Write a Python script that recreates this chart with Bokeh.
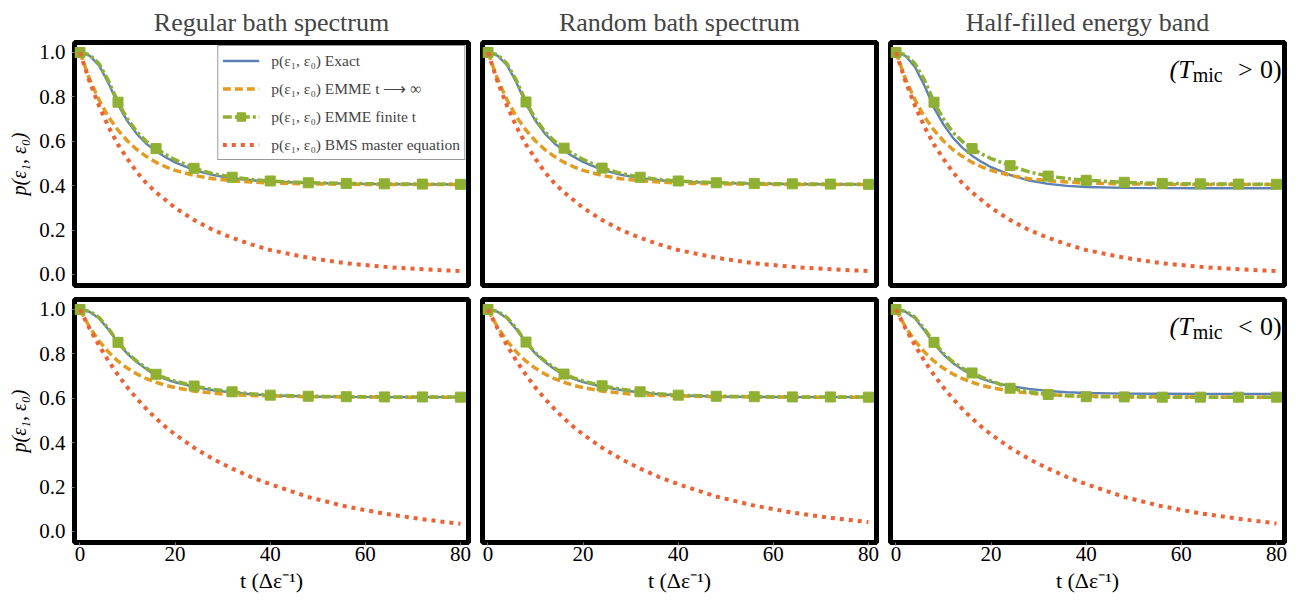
from bokeh.plotting import figure
from bokeh.layouts import column, row
from bokeh.models import Range1d, FixedTicker, Label
from bokeh.embed import file_html
from bokeh.resources import INLINE

# ---------------- data ----------------
t = [0, 2, 4, 6, 8, 10, 12, 14, 16, 18, 20, 24, 28, 32, 36, 40, 48, 56, 64, 72, 80]
x_ticks = [0, 20, 40, 60, 80]
y_ticks = [0.0, 0.2, 0.4, 0.6, 0.8, 1.0]
titles = ["Regular bath spectrum", "Random bath spectrum", "Half-filled energy band"]
legend_labels = ["p(ε₁, ε₀) Exact", "p(ε₁, ε₀) EMME t ⟶ ∞",
                 "p(ε₁, ε₀) EMME finite t", "p(ε₁, ε₀) BMS master equation"]

# Row 1 (T_mic > 0)
reg_pos_exact = [1.0, 0.986, 0.942, 0.862, 0.765, 0.69, 0.632, 0.588, 0.555, 0.528, 0.505, 0.47, 0.448, 0.433, 0.424, 0.418, 0.412, 0.409, 0.407, 0.406, 0.405]
reg_pos_inf = [1.0, 0.881, 0.786, 0.71, 0.65, 0.601, 0.562, 0.531, 0.505, 0.485, 0.469, 0.446, 0.431, 0.422, 0.416, 0.412, 0.408, 0.406, 0.405, 0.405, 0.405]
reg_pos_fin = [1.0, 0.99, 0.95, 0.872, 0.776, 0.70, 0.642, 0.598, 0.567, 0.54, 0.517, 0.478, 0.454, 0.438, 0.428, 0.421, 0.413, 0.41, 0.408, 0.407, 0.406]
reg_pos_bms = [1.0, 0.87, 0.76, 0.665, 0.585, 0.52, 0.46, 0.41, 0.37, 0.335, 0.30, 0.245, 0.20, 0.165, 0.135, 0.11, 0.075, 0.05, 0.034, 0.023, 0.015]

rnd_pos_exact = [1.0, 0.986, 0.943, 0.864, 0.768, 0.692, 0.634, 0.59, 0.557, 0.53, 0.507, 0.471, 0.449, 0.434, 0.424, 0.418, 0.412, 0.409, 0.407, 0.406, 0.405]
rnd_pos_inf = [1.0, 0.881, 0.786, 0.71, 0.65, 0.601, 0.562, 0.531, 0.505, 0.485, 0.469, 0.446, 0.431, 0.422, 0.416, 0.412, 0.408, 0.406, 0.405, 0.405, 0.405]
rnd_pos_fin = [1.0, 0.99, 0.95, 0.873, 0.777, 0.70, 0.643, 0.60, 0.569, 0.542, 0.518, 0.479, 0.455, 0.438, 0.428, 0.421, 0.413, 0.41, 0.408, 0.407, 0.406]
rnd_pos_bms = [1.0, 0.87, 0.76, 0.665, 0.585, 0.52, 0.46, 0.41, 0.37, 0.335, 0.30, 0.245, 0.20, 0.165, 0.135, 0.11, 0.075, 0.05, 0.034, 0.023, 0.015]

half_pos_exact = [1.0, 0.985, 0.935, 0.85, 0.75, 0.675, 0.615, 0.57, 0.535, 0.507, 0.483, 0.448, 0.423, 0.408, 0.399, 0.394, 0.39, 0.389, 0.388, 0.388, 0.388]
half_pos_inf = [1.0, 0.881, 0.786, 0.71, 0.65, 0.601, 0.562, 0.531, 0.505, 0.485, 0.469, 0.446, 0.431, 0.422, 0.416, 0.412, 0.408, 0.406, 0.405, 0.405, 0.405]
half_pos_fin = [1.0, 0.99, 0.95, 0.875, 0.776, 0.70, 0.64, 0.598, 0.567, 0.543, 0.522, 0.49, 0.462, 0.443, 0.432, 0.424, 0.415, 0.41, 0.408, 0.407, 0.406]
half_pos_bms = [1.0, 0.87, 0.76, 0.665, 0.585, 0.52, 0.46, 0.41, 0.37, 0.335, 0.30, 0.245, 0.20, 0.165, 0.135, 0.11, 0.075, 0.05, 0.034, 0.023, 0.015]

# Row 2 (T_mic < 0)
reg_neg_exact = [1.0, 0.99, 0.96, 0.91, 0.85, 0.80, 0.762, 0.73, 0.703, 0.686, 0.672, 0.651, 0.636, 0.626, 0.618, 0.613, 0.608, 0.606, 0.605, 0.605, 0.605]
reg_neg_inf = [1.0, 0.921, 0.858, 0.808, 0.767, 0.735, 0.709, 0.688, 0.672, 0.658, 0.648, 0.632, 0.623, 0.616, 0.612, 0.61, 0.607, 0.606, 0.605, 0.605, 0.605]
reg_neg_fin = [1.0, 0.992, 0.964, 0.914, 0.852, 0.803, 0.766, 0.735, 0.708, 0.691, 0.677, 0.655, 0.64, 0.629, 0.62, 0.614, 0.609, 0.607, 0.606, 0.606, 0.605]
reg_neg_bms = [1.0, 0.915, 0.838, 0.768, 0.705, 0.648, 0.597, 0.551, 0.509, 0.471, 0.437, 0.377, 0.326, 0.283, 0.245, 0.213, 0.155, 0.112, 0.08, 0.055, 0.034]

rnd_neg_exact = [1.0, 0.99, 0.96, 0.91, 0.851, 0.801, 0.763, 0.731, 0.704, 0.687, 0.673, 0.652, 0.637, 0.626, 0.618, 0.613, 0.608, 0.606, 0.605, 0.605, 0.605]
rnd_neg_inf = [1.0, 0.921, 0.858, 0.808, 0.767, 0.735, 0.709, 0.688, 0.672, 0.658, 0.648, 0.632, 0.623, 0.616, 0.612, 0.61, 0.607, 0.606, 0.605, 0.605, 0.605]
rnd_neg_fin = [1.0, 0.992, 0.964, 0.914, 0.853, 0.804, 0.767, 0.736, 0.709, 0.692, 0.678, 0.656, 0.641, 0.629, 0.62, 0.614, 0.609, 0.607, 0.606, 0.606, 0.605]
rnd_neg_bms = [1.0, 0.915, 0.838, 0.768, 0.705, 0.648, 0.597, 0.551, 0.509, 0.471, 0.437, 0.377, 0.326, 0.283, 0.245, 0.213, 0.157, 0.116, 0.085, 0.061, 0.042]

half_neg_exact = [1.0, 0.99, 0.96, 0.905, 0.845, 0.797, 0.758, 0.729, 0.706, 0.688, 0.674, 0.655, 0.642, 0.633, 0.627, 0.624, 0.621, 0.62, 0.619, 0.619, 0.619]
half_neg_inf = [1.0, 0.921, 0.858, 0.808, 0.767, 0.735, 0.709, 0.688, 0.672, 0.658, 0.648, 0.632, 0.623, 0.616, 0.612, 0.61, 0.607, 0.606, 0.605, 0.605, 0.605]
half_neg_fin = [1.0, 0.992, 0.965, 0.912, 0.852, 0.802, 0.763, 0.735, 0.714, 0.695, 0.678, 0.645, 0.628, 0.617, 0.611, 0.607, 0.606, 0.605, 0.605, 0.605, 0.605]
half_neg_bms = [1.0, 0.915, 0.838, 0.768, 0.705, 0.648, 0.597, 0.551, 0.509, 0.471, 0.437, 0.377, 0.326, 0.283, 0.245, 0.213, 0.155, 0.113, 0.081, 0.057, 0.036]

panels = [
    [(reg_pos_exact, reg_pos_inf, reg_pos_fin, reg_pos_bms),
     (rnd_pos_exact, rnd_pos_inf, rnd_pos_fin, rnd_pos_bms),
     (half_pos_exact, half_pos_inf, half_pos_fin, half_pos_bms)],
    [(reg_neg_exact, reg_neg_inf, reg_neg_fin, reg_neg_bms),
     (rnd_neg_exact, rnd_neg_inf, rnd_neg_fin, rnd_neg_bms),
     (half_neg_exact, half_neg_inf, half_neg_fin, half_neg_bms)],
]

# ---------------- styles ----------------
FONT = "Liberation Serif"
BLUE = "#5E81B5"
ORANGE = "#E19C24"
GREEN = "#8FB032"
RED = "#EB6235"


def add_tmic(p, rel):
    lx, ly = 81.1, 0.925
    common = dict(x=lx, y=ly, text_align="right", text_baseline="middle",
                  text_font=FONT, text_color="black")
    p.add_layout(Label(text="0)", text_font_size="26px", **common))
    p.add_layout(Label(text=rel, x_offset=-29, text_font_size="26px", **common))
    p.add_layout(Label(text="mic", x_offset=-59, y_offset=-6,
                       text_font_size="20px", **common))
    p.add_layout(Label(text="(T", x_offset=-89, text_font_size="26px",
                       text_font_style="italic", **common))


def make_panel(ri, ci, series):
    exact, inf, fin, bms = series
    p = figure(
        frame_width=394, frame_height=243,
        min_border_left=74 if ci == 0 else 7,
        min_border_right=8 if ci == 2 else 7,
        min_border_top=42 if ri == 0 else 7,
        min_border_bottom=7 if ri == 0 else 52,
        x_range=Range1d(-1.15, 81.7), y_range=Range1d(-0.05, 1.045),
        output_backend="svg", toolbar_location=None, tools="",
        title=titles[ci] if ri == 0 else None,
    )
    p.background_fill_color = "white"
    p.border_fill_color = "white"
    p.outline_line_color = "black"
    p.outline_line_width = 5
    p.xgrid.visible = False
    p.ygrid.visible = False

    if ri == 0:
        p.title.text_font = FONT
        p.title.text_font_size = "26px"
        p.title.text_font_style = "normal"
        p.title.align = "center"
        p.title.standoff = 11

    for ax in (p.xaxis[0], p.yaxis[0]):
        ax.axis_line_color = None
        ax.major_tick_out = 3
        ax.major_tick_in = 0
        ax.major_tick_line_color = "#777777"
        ax.minor_tick_line_color = None
        ax.major_label_text_font = FONT
        ax.major_label_text_font_size = "21px"
        ax.major_label_text_color = "black"
        ax.axis_label_text_font = FONT
        ax.axis_label_text_color = "black"
    p.xaxis.ticker = FixedTicker(ticks=x_ticks)
    p.yaxis.ticker = FixedTicker(ticks=y_ticks)
    p.yaxis.major_label_overrides = {v: f"{v:.1f}" for v in y_ticks}
    p.xaxis.major_label_standoff = 1
    p.yaxis.major_label_standoff = 6

    if ri == 0:
        p.xaxis.visible = False
    else:
        p.xaxis.axis_label = "t (Δε⁻¹)"
        p.xaxis.axis_label_text_font_style = "normal"
        p.xaxis.axis_label_text_font_size = "22px"
        p.xaxis.axis_label_standoff = 4
    if ci != 0:
        p.yaxis.visible = False
    else:
        p.yaxis.axis_label = "p(ε₁, ε₀)"
        p.yaxis.axis_label_text_font_style = "italic"
        p.yaxis.axis_label_text_font_size = "20px"
        p.yaxis.axis_label_standoff = 6

    leg = (ri == 0 and ci == 0)
    kw = lambda i: {"legend_label": legend_labels[i]} if leg else {}

    p.line(t, exact, line_color=BLUE, line_width=2.4, **kw(0))
    p.line(t, inf, line_color=ORANGE, line_width=3.5, line_dash="8 4", **kw(1))
    p.line(t, fin, line_color=GREEN, line_width=3.5, line_dash="9 3 3 3", **kw(2))
    mk_t = [tt for tt in t if tt % 8 == 0]
    mk_v = [v for tt, v in zip(t, fin) if tt % 8 == 0]
    p.scatter(mk_t, mk_v, marker="square", size=10, fill_color=GREEN,
              line_color=GREEN, **kw(2))
    p.line(t, bms, line_color=RED, line_width=4, line_dash="4 5", **kw(3))

    if leg:
        lg = p.legend[0]
        lg.location = "top_right"
        lg.label_text_font = FONT
        lg.label_text_font_size = "15.5px"
        lg.glyph_width = 37
        lg.glyph_height = 21
        lg.label_height = 21
        lg.spacing = 7
        lg.padding = 4
        lg.margin = 3
        lg.label_standoff = 12
        lg.border_line_color = "#333333"
        lg.border_line_width = 1
        lg.background_fill_color = "white"
        lg.background_fill_alpha = 1.0

    if ci == 2:
        add_tmic(p, ">" if ri == 0 else "<")
    return p


rows = []
for ri in range(2):
    rows.append(row(*[make_panel(ri, ci, panels[ri][ci]) for ci in range(3)], spacing=0))
layout = column(*rows, spacing=0)

open("out.html", "w").write(file_html(layout, INLINE, "chart"))
